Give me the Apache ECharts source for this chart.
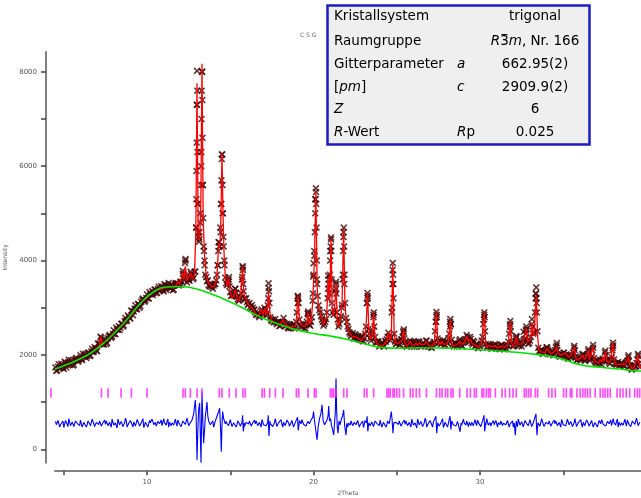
<!DOCTYPE html>
<html><head><meta charset="utf-8">
<script src="https://cdn.jsdelivr.net/npm/echarts@6/dist/echarts.min.js"></script>
<style>html,body{margin:0;padding:0;background:#fff}#c{width:641px;height:498px}</style>
</head><body><div id="c"></div>
<script>
// ---- data ----
const background = [[4.47,1700],[5.0,1770],[5.6,1856],[6.6,2034],[7.6,2316],[8.6,2669],[9.6,3093],[10.4,3339],[11.2,3440],[12.0,3450],[12.6,3430],[13.5,3340],[14.7,3170],[15.6,3020],[16.7,2820],[18.0,2640],[19.0,2530],[20.1,2450],[21.0,2400],[22.0,2330],[23.0,2240],[24.0,2160],[25.2,2140],[26.4,2150],[28.2,2140],[30.0,2110],[31.8,2068],[33.6,2000],[34.8,1928],[36.0,1790],[37.2,1737],[38.4,1700],[39.2,1665],[39.67,1660]];

const calc = [[4.47,1700],[5.0,1770],[5.6,1856],[6.6,2034],[7.0,2147],[7.14,2190],[7.22,2390],[7.3,2240],[7.6,2316],[8.6,2669],[9.6,3093],[10.4,3339],[11.2,3440],[11.6,3450],
[11.75,3470],[11.85,3560],[11.95,3490],[12.05,3520],[12.15,3740],[12.22,3600],[12.3,3880],[12.4,3560],[12.5,3560],[12.62,3740],[12.72,3600],[12.85,3700],[12.93,4600],[13.0,7760],[13.07,4600],[13.16,4420],[13.23,5200],[13.3,8170],[13.37,4900],[13.45,4100],[13.55,3680],[13.7,3520],[13.9,3440],[14.05,3460],[14.15,3560],[14.22,3800],[14.3,4350],[14.38,4300],[14.44,5000],[14.5,6270],[14.56,5000],[14.62,4200],[14.7,3650],[14.8,3460],[14.9,3620],[15.0,3330],[15.1,3200],[15.2,3250],[15.3,3380],[15.4,3220],[15.5,3130],[15.62,3250],[15.74,3880],[15.82,3300],[15.9,3200],[16.1,3060],[16.3,3000],[16.5,2880],[16.7,2820],[16.87,2970],[16.96,2850],[17.06,2990],[17.15,2845],[17.22,2900],[17.3,3340],[17.38,2900],[17.47,2740],[17.6,2700],[17.7,2740],[17.8,2660],[18.0,2640],[18.1,2650],[18.18,2760],[18.26,2650],[18.5,2600],[18.9,2600],[18.98,2800],[19.06,3260],[19.14,2800],[19.3,2620],[19.5,2600],[19.6,2700],[19.67,2900],[19.74,2650],[19.85,2700],[19.95,3100],[20.05,4000],[20.14,5450],[20.22,3400],[20.3,3020],[20.45,2845],[20.6,2640],[20.78,2800],[20.9,3650],[20.97,3100],[21.05,4460],[21.12,3000],[21.18,2820],[21.27,3000],[21.35,3520],[21.42,2800],[21.5,2600],[21.62,2800],[21.71,3050],[21.81,4680],[21.88,3200],[21.96,2740],[22.1,2500],[22.31,2390],[22.5,2380],[22.7,2360],[22.9,2300],[23.0,2300],[23.1,2420],[23.17,2700],[23.24,3290],[23.32,2600],[23.41,2320],[23.52,2400],[23.61,2890],[23.68,2400],[23.8,2250],[24.0,2180],[24.2,2200],[24.4,2300],[24.5,2460],[24.6,2300],[24.67,2400],[24.76,3920],[24.84,2500],[24.92,2250],[25.1,2250],[25.3,2300],[25.41,2530],[25.5,2250],[25.61,2180],[25.81,2290],[25.9,2220],[25.97,2260],[26.05,2200],[26.15,2250],[26.25,2200],[26.37,2260],[26.5,2210],[26.7,2230],[26.78,2290],[26.9,2200],[27.12,2180],[27.25,2250],[27.38,2890],[27.46,2300],[27.52,2220],[27.58,2270],[27.65,2220],[27.72,2290],[27.8,2230],[27.9,2260],[28.0,2230],[28.1,2300],[28.22,2725],[28.3,2260],[28.4,2190],[28.55,2210],[28.7,2240],[28.78,2290],[28.88,2220],[29.05,2260],[29.22,2390],[29.32,2280],[29.42,2330],[29.52,2240],[29.62,2260],[29.75,2200],[29.92,2150],[30.1,2280],[30.26,2890],[30.34,2250],[30.42,2150],[30.52,2200],[30.6,2190],[30.75,2170],[30.9,2200],[31.05,2150],[31.3,2190],[31.45,2150],[31.55,2180],[31.7,2250],[31.82,2700],[31.9,2250],[31.98,2175],[32.1,2250],[32.18,2390],[32.26,2230],[32.35,2200],[32.5,2230],[32.62,2320],[32.7,2300],[32.78,2560],[32.86,2260],[32.93,2240],[33.05,2380],[33.12,2680],[33.2,2400],[33.26,2500],[33.38,3270],[33.46,2400],[33.53,2110],[33.7,2060],[33.9,2050],[34.02,2140],[34.12,2100],[34.25,2020],[34.35,2060],[34.5,2080],[34.6,2174],[34.7,2030],[34.85,1990],[35.02,2030],[35.18,2020],[35.3,1950],[35.45,1990],[35.55,1950],[35.66,2160],[35.75,1950],[35.83,1890],[36.02,1930],[36.18,2000],[36.26,1900],[36.35,1880],[36.46,2000],[36.51,2100],[36.58,1900],[36.65,1930],[36.79,2170],[36.86,1900],[36.95,1850],[37.1,1830],[37.22,1900],[37.3,1850],[37.39,1950],[37.45,1870],[37.53,2070],[37.6,1880],[37.67,1900],[37.75,1830],[37.85,1900],[37.99,2246],[38.07,1850],[38.2,1800],[38.3,1840],[38.42,1800],[38.55,1810],[38.7,1790],[38.8,1850],[38.92,1960],[39.0,1800],[39.13,1700],[39.29,1760],[39.4,1800],[39.49,2000],[39.56,1780],[39.67,1720]];

// observed intensities on the scan grid (two interleaved 0.1 deg grids: 4.50.. and 4.55..)
const obsStart = 4.5, obsStep = 0.1;
const obsGrid = [1735,1673,1802,1725,1773,1700,1834,1794,1898,1787,
1862,1796,1914,1897,1880,1992,1890,1973,2026,1973,
2046,1989,2132,2070,2134,2077,2225,2385,2316,2220,
2308,2256,2391,2392,2392,2522,2438,2538,2608,2573,
2664,2624,2781,2734,2811,2769,2931,2918,3051,2968,
3071,3033,3164,3160,3155,3281,3192,3288,3353,3314,
3382,3319,3447,3370,3417,3345,3477,3435,3526,3403,
3464,3385,3510,3505,3470,3555,3545,3630,4000,3535,
3590,3655,3690,3630,3765,7300,4500,4800,8000,4300,
3700,3560,3480,3450,3440,3470,3500,3700,4390,4700,
6250,4300,3640,3480,3600,3330,3260,3280,3400,3230,
3150,3200,3600,3350,3180,3120,3080,3020,3060,2950,
2900,2860,2830,2850,2960,2880,2950,2880,3420,2800,
2720,2690,2760,2650,2700,2620,2690,2780,2600,2660,
2560,2640,2590,2650,2600,2900,3100,2640,2580,2650,
2560,2700,2850,2620,2800,3700,5300,3600,3050,2900,
2750,2620,2700,2900,3600,4200,3100,2850,3350,2900,
2600,2750,3000,4500,3100,2700,2550,2450,2420,2360,
2440,2340,2400,2320,2380,2290,2450,3100,2550,2350,
2420,2850,2380,2260,2280,2200,2260,2190,2300,2330,
2470,2310,2900,3500,2280,2240,2300,2220,2330,2500,
2270,2170,2260,2300,2200,2280,2230,2180,2290,2220,
2190,2260,2200,2300,2170,2230,2150,2260,2500,2850,
2260,2300,2240,2310,2220,2280,2350,2700,2320,2200,
2260,2180,2240,2330,2200,2260,2300,2420,2320,2380,
2250,2300,2180,2230,2140,2200,2300,2650,2500,2170,
2230,2190,2130,2200,2230,2140,2190,2120,2220,2150,
2190,2130,2280,2650,2260,2180,2290,2380,2210,2250,
2180,2300,2330,2550,2230,2300,2650,2450,2900,3100,
2150,2060,2110,2020,2080,2160,2090,2010,2060,1990,
2100,2200,2000,1960,2010,2040,1950,2010,1920,1980,
1960,2050,2100,1880,1930,1900,1960,1990,1870,1920,
2080,1880,1950,2150,1860,1820,1870,1890,1800,1920,
2050,1860,1900,1810,1950,2200,1830,1790,1850,1770,
1830,1780,1760,1850,1950,1780,1690,1740,1780,1830,
1980,1740];
const obsStart2 = 4.55;
const obsGrid2 = [1661,1750,1723,1811,1729,1857,1731,1841,1800,1884,
1774,1880,1938,1856,1923,1906,2024,1962,1934,2047,
1975,2073,2061,2164,2098,2241,2240,2365,2225,2324,
2227,2348,2424,2359,2445,2445,2580,2535,2525,2656,
2601,2715,2717,2835,2782,2940,2842,2979,2967,3079,
2997,3123,3194,3125,3205,3201,3332,3283,3268,3385,
3308,3395,3368,3456,3373,3501,3373,3475,3422,3493,
3370,3475,3525,3515,3495,3490,3720,3690,3645,3600,
3570,3725,3605,3760,4700,5200,4450,6000,5600,4000,
3650,3580,3460,3500,3400,3510,3580,3900,4300,5200,
5000,3900,3520,3500,3450,3250,3300,3250,3320,3180,
3160,3300,3850,3200,3200,3060,3100,2980,3000,2960,
2850,2880,2800,2930,2860,3000,2830,3050,3100,2740,
2750,2700,2690,2680,2610,2680,2700,2680,2640,2580,
2650,2570,2620,2560,2700,3250,2750,2600,2640,2560,
2650,2880,2640,2700,3150,4100,5450,3250,2950,2820,
2700,2660,2760,3200,3300,4450,2900,2950,3500,2750,
2650,2820,3600,3500,2780,2600,2480,2400,2460,2350,
2410,2380,2330,2400,2290,2350,2600,3250,2450,2300,
2500,2600,2270,2290,2180,2230,2250,2180,2280,2380,
2390,2360,3800,2450,2230,2290,2210,2320,2380,2350,
2200,2230,2190,2270,2250,2170,2280,2210,2270,2180,
2230,2190,2300,2220,2210,2160,2220,2280,2700,2350,
2250,2230,2290,2200,2270,2250,2450,2650,2230,2180,
2240,2200,2300,2250,2180,2290,2330,2380,2270,2340,
2220,2270,2210,2160,2190,2240,2380,2850,2230,2160,
2210,2160,2190,2150,2210,2170,2130,2200,2170,2120,
2200,2210,2450,2500,2190,2220,2350,2260,2190,2240,
2260,2330,2450,2300,2250,2380,2600,2480,3300,2500,
2080,2100,2040,2070,2100,2130,2050,2040,2080,2030,
2160,2100,1990,2020,1970,2050,2000,1940,2000,1940,
1990,2150,1960,1900,1950,1920,2010,1910,1900,1980,
1960,1920,2100,1930,1840,1880,1820,1880,1900,1880,
1990,1890,1840,1890,2100,1900,1810,1820,1790,1820,
1800,1770,1820,1880,1870,1760,1700,1770,1760,1900,
1820];

// extra observed points on the steep peak flanks
const obsPeaks = [[12.15,3780],[12.28,3950],[12.32,4030],[12.62,3760],
[12.95,4700],[12.96,5300],[12.97,5900],[12.98,6500],[12.99,7300],[13.0,8020],[13.02,7600],[13.03,6300],[13.05,5200],[13.07,4600],[13.12,4400],[13.15,4600],[13.2,5000],[13.24,5600],[13.26,6300],[13.27,7000],[13.28,7600],[13.3,8450],[13.31,8000],[13.32,7400],[13.33,6600],[13.35,5600],[13.37,4900],[13.42,4200],[13.46,3900],
[14.25,3900],[14.28,4200],[14.32,4390],[14.35,4300],[14.42,4600],[14.45,5200],[14.47,5700],[14.49,6150],[14.51,6250],[14.53,5600],[14.55,5000],[14.58,4500],[14.64,4000],
[14.88,3550],[14.92,3650],[15.3,3400],[15.72,3650],[15.74,3880],[15.76,3800],[15.78,3500],
[17.28,3200],[17.3,3517],[17.32,3350],[19.04,3100],[19.06,3240],[19.08,3200],[19.66,2880],[19.68,2920],
[19.96,3300],[19.98,3660],[20.0,3940],[20.04,4200],[20.08,4600],[20.1,5000],[20.12,5300],[20.14,5530],[20.16,5200],[20.18,4700],[20.2,4000],[20.22,3500],
[20.87,3400],[20.88,3680],[20.92,3500],[20.98,3700],[21.0,4000],[21.03,4300],[21.05,4490],[21.07,4200],[21.09,3600],
[21.33,3400],[21.35,3550],[21.37,3300],[21.71,3060],[21.76,3700],[21.78,4200],[21.8,4600],[21.82,4700],[21.84,4300],[21.86,3700],
[23.22,3100],[23.24,3310],[23.26,3200],[23.6,2800],[23.62,2900],[24.72,3000],[24.74,3500],[24.76,3950],[24.78,3700],[24.8,3200],
[25.4,2480],[25.42,2540],[27.36,2700],[27.38,2910],[27.4,2800],[28.2,2600],[28.22,2760],[28.24,2650],[30.24,2750],[30.26,2900],[30.28,2800],
[31.8,2600],[31.82,2720],[32.18,2400],[32.62,2490],[32.76,2520],[32.78,2600],[33.12,2760],[33.34,3200],[33.36,3300],[33.38,3430],[33.4,3200],[33.42,2900],
[34.02,2160],[34.62,2250],[35.66,2190],[36.19,2020],[36.51,2120],[36.79,2210],[37.53,2090],[37.97,2150],[37.99,2260],[38.92,1990],[39.49,2020]];

// difference curve (obs - calc, shifted) on two interleaved 0.1 deg grids, with finer detail near strong peaks
const diffStart = 4.5, diffStep = 0.1;
const diffGrid = [590,490,630,520,560,460,610,530,650,500,580,480,600,550,510,620,470,570,610,515,565,495,640,540,485,595,525,625,505,555,
530,600,480,570,640,510,560,450,620,540,590,500,660,470,550,610,520,580,490,630,545,505,600,460,575,615,500,560,640,520,
570,480,620,540,500,650,530,590,470,610,560,510,640,490,580,545,470,600,525,660,500,575,535,615,480,590,555,510,630,540,
575,505,620,530,555,470,600,540,640,510,585,475,610,545,500,630,480,560,600,525,570,490,650,530,495,590,535,615,515,560,
540,590,470,580,630,520,550,460,610,550,580,510,650,480,560,600,530,570,500,620,555,495,610,470,565,605,510,570,630,530,
570,480,620,540,500,650,530,590,470,610,560,510,640,490,580,545,470,600,525,660,500,575,535,615,480,590,555,510,630,540,
590,490,630,520,560,460,610,530,650,500,580,480,600,550,510,620,470,570,610,515,565,495,640,540,485,595,525,625,505,555,
530,600,480,570,640,510,560,450,620,540,590,500,660,470,550,610,520,580,490,630,545,505,600,460,575,615,500,560,640,520,
560,490,610,550,510,640,520,600,480,600,570,500,630,500,570,555,480,590,535,650,510,565,545,605,490,580,565,520,620,550,
575,505,620,530,555,470,600,540,640,510,585,475,610,545,500,630,480,560,600,525,570,490,650,530,495,590,535,615,515,560,
540,590,470,580,630,520,550,460,610,550,580,510,650,480,560,600,530,570,500,620,555,495,610,470,565,605,510,570,630,530,
570,480,620,540,500,650,530,590,470,610,560,510,640,490,580,545,470,600,525,660,500,575];
const diffStart2 = 4.55;
const diffGrid2 = [520,610,470,560,600,500,640,480,570,530,610,460,590,540,500,650,520,580,470,600,540,510,620,480,570,530,600,490,560,620,
600,500,570,470,620,540,500,640,520,590,480,560,610,500,540,630,470,580,530,600,490,560,650,510,550,470,610,540,590,500,
490,590,540,620,480,560,510,640,570,500,600,470,550,620,530,480,600,560,510,650,540,490,580,520,610,470,560,600,500,570,
520,610,470,560,600,500,640,480,570,530,610,460,590,540,500,650,520,580,470,600,540,510,620,480,570,530,600,490,560,620,
600,500,570,470,620,540,500,640,520,590,480,560,610,500,540,630,470,580,530,600,490,560,650,510,550,470,610,540,590,500,
490,590,540,620,480,560,510,640,570,500,600,470,550,620,530,480,600,560,510,650,540,490,580,520,610,470,560,600,500,570,
520,610,470,560,600,500,640,480,570,530,610,460,590,540,500,650,520,580,470,600,540,510,620,480,570,530,600,490,560,620,
600,500,570,470,620,540,500,640,520,590,480,560,610,500,540,630,470,580,530,600,490,560,650,510,550,470,610,540,590,500,
490,590,540,620,480,560,510,640,570,500,600,470,550,620,530,480,600,560,510,650,540,490,580,520,610,470,560,600,500,570,
520,610,470,560,600,500,640,480,570,530,610,460,590,540,500,650,520,580,470,600,540,510,620,480,570,530,600,490,560,620,
600,500,570,470,620,540,500,640,520,590,480,560,610,500,540,630,470,580,530,600,490,560,650,510,550,470,610,540,590,500,
490,590,540,620,480,560,510,640,570,500,600,470,550,620,530,480,600,560,510,650,540];
const diffDetail = [
[[12.6,560],[12.7,620],[12.8,750],[12.85,900],[12.9,1045],[12.95,700],[13.0,-225],[13.05,400],[13.1,850],[13.16,980],[13.2,300],[13.24,-285],[13.27,500],[13.3,1220],[13.35,600],[13.4,130],[13.45,400],[13.5,700],[13.55,850],[13.6,1000],[13.65,700],[13.7,600],[13.8,520]],
[[14.2,620],[14.3,800],[14.36,870],[14.42,400],[14.46,-50],[14.5,500],[14.54,800],[14.6,650],[14.7,540]],
[[15.7,560],[15.74,720],[15.78,380],[15.84,560]],
[[17.24,560],[17.28,720],[17.32,280],[17.38,600]],
[[19.0,560],[19.04,680],[19.08,400],[19.14,560]],
[[19.9,600],[19.96,680],[20.0,800],[20.06,600],[20.12,450],[20.21,200],[20.28,480],[20.36,650],[20.44,750],[20.51,940],[20.58,600],[20.66,520],[20.74,560],[20.81,620],[20.87,700],[20.91,917],[20.96,600],[21.02,650],[21.08,500],[21.14,420],[21.21,303],[21.27,600],[21.31,800],[21.35,1500],[21.39,800],[21.43,450],[21.47,340],[21.53,600],[21.6,520],[21.67,640],[21.74,700],[21.81,833],[21.87,500],[21.95,303],[22.0,550]],
[[23.18,560],[23.22,700],[23.26,380],[23.32,560]],
[[24.6,560],[24.67,800],[24.72,620],[24.77,340],[24.82,560],[24.9,600]],
[[27.3,560],[27.35,700],[27.4,340],[27.46,560]],
[[28.14,620],[28.2,700],[28.25,420],[28.3,600]],
[[28.74,560],[28.8,370],[28.86,560]],
[[30.18,600],[30.24,720],[30.28,380],[30.34,560]],
[[32.06,560],[32.12,300],[32.18,600]],
[[33.3,600],[33.36,750],[33.42,300],[33.48,560]]
];

// reflection positions (2Theta)
const hklPos = [4.23,7.26,7.66,8.44,9.06,10.0,12.16,12.30,12.60,13.0,13.30,14.34,14.50,14.94,15.34,15.76,15.90,16.91,17.05,17.37,17.71,18.17,18.97,19.11,19.67,20.05,20.15,21.01,21.11,21.21,21.35,21.81,22.01,23.05,23.21,23.61,24.41,24.51,24.61,24.77,24.86,25.0,25.16,25.41,25.81,25.97,26.17,26.37,26.78,27.38,27.58,27.72,27.92,28.06,28.26,28.38,28.78,29.22,29.42,29.66,29.78,30.12,30.22,30.38,30.52,30.62,30.92,31.32,31.52,31.78,31.98,32.18,32.66,32.78,32.92,33.06,33.32,33.46,34.12,34.32,34.52,35.02,35.18,35.42,35.52,35.82,36.02,36.18,36.32,36.46,36.62,36.92,37.22,37.39,37.52,37.67,37.82,38.23,38.42,38.59,38.78,38.99,39.29,39.45,39.59];
const hklLevel = 1193;

const xTicks = [5,10,15,20,25,30,35];
const xLabels = [10,20,30];
const yTicks = [0,1000,2000,3000,4000,5000,6000,7000,8000];
const yLabels = [0,2000,4000,6000,8000];

// ---- assemble series ----
const gridPts = (start, step, arr) => arr.map((v,i)=>[+(start+i*step).toFixed(2), v]);
const obsData = gridPts(obsStart,obsStep,obsGrid).concat(gridPts(obsStart2,obsStep,obsGrid2), obsPeaks);
const ranges = diffDetail.map(s=>[s[0][0], s[s.length-1][0]]);
let diffData = gridPts(diffStart,diffStep,diffGrid).concat(gridPts(diffStart2,diffStep,diffGrid2))
  .filter(p=>!ranges.some(r=>p[0]>=r[0]-1e-6 && p[0]<=r[1]+1e-6));
diffDetail.forEach(s=>s.forEach(p=>diffData.push(p)));
diffData.sort((a,b)=>a[0]-b[0]);
const hklData = hklPos.map(p=>[p,hklLevel]);

const F = 'DejaVu Sans';
const T = 13.5;
const rich = {i:{fontStyle:'italic',fontSize:T,fontFamily:F,fill:'#000'}};
function txt(x,y,s,align){
  return {type:'text', x:x, y:y, z:100, style:{text:s, rich:rich, fontSize:T, fontFamily:F, fill:'#000', align:align||'left', verticalAlign:'middle', textAlign:align||'left', textVerticalAlign:'middle'}};
}
const rowsY = [16.7,41,64.3,87.3,109,132.3];
const col1 = ['Kristallsystem','Raumgruppe','Gitterparameter','[{i|pm}]','{i|Z}','{i|R}-Wert'];
const col2 = ['','','{i|a}','{i|c}','','{i|R}p'];
const col3 = ['trigonal','{i|R}3{i|m}, Nr. 166','662.95(2)','2909.9(2)','6','0.025'];
const graphics = [
  {type:'text', x:300, y:35, style:{text:'C S G', fontSize:6, fontFamily:F, fill:'#666', verticalAlign:'middle', textVerticalAlign:'middle'}},
  {type:'rect', z:99, shape:{x:327.5,y:5.5,width:262,height:139}, style:{fill:'#efefef', stroke:'#1c1cc4', lineWidth:2.5}}
];
rowsY.forEach((y,k)=>{
  graphics.push(txt(334,y,col1[k]));
  if (col2[k]) graphics.push(txt(457,y,col2[k]));
  graphics.push(txt(535,y,col3[k],'center'));
});
// overbar on the 3 of R-3m
(function(){
  const cx = document.createElement('canvas').getContext('2d');
  const w = (t,it)=>{cx.font=(it?'italic ':'')+T+'px "'+F+'"'; return cx.measureText(t).width;};
  const W = w('R',1)+w('3',0)+w('m',1)+w(', Nr. 166',0);
  const x0 = 535 - W/2 + w('R',1);
  graphics.push({type:'line', z:101, shape:{x1:x0+1.2, y1:34.6, x2:x0+w('3',0)-1.2, y2:34.6}, style:{stroke:'#000', lineWidth:1}});
})();

const xSym = 'path://M0,1.6L1.6,0L5,3.4L8.4,0L10,1.6L6.6,5L10,8.4L8.4,10L5,6.6L1.6,10L0,8.4L3.4,5Z';

const chart = echarts.init(document.getElementById('c'));
chart.setOption({
  animation:false,
  grid:{left:55,right:0,top:52,bottom:35.3,containLabel:false,outerBoundsMode:'none'},
  xAxis:{type:'value',min:4.47,max:39.67,offset:8.5,
    name:'2Theta',nameLocation:'middle',nameGap:19,nameTextStyle:{fontSize:6,color:'#555',fontFamily:F},
    axisLine:{show:true,onZero:false,lineStyle:{color:'#808080',width:2}},
    axisTick:{show:true,length:4,customValues:xTicks,lineStyle:{color:'#404040',width:1.5}},
    axisLabel:{customValues:xLabels,fontSize:7,color:'#555',fontFamily:F,margin:7,formatter:v=>String(v)},
    splitLine:{show:false}},
  yAxis:{type:'value',min:-285,max:8420,offset:9,
    name:'Intensity',nameLocation:'middle',nameGap:34,nameRotate:90,nameTextStyle:{fontSize:6,color:'#555',fontFamily:F},
    axisLine:{show:true,onZero:false,lineStyle:{color:'#808080',width:2}},
    axisTick:{show:true,length:5,customValues:yTicks,lineStyle:{color:'#404040',width:1.5}},
    axisLabel:{customValues:yLabels,fontSize:7,color:'#555',fontFamily:F,margin:9,formatter:v=>String(v)},
    splitLine:{show:false}},
  graphic:graphics,
  series:[
    {type:'scatter',name:'obs',data:obsData,symbol:xSym,symbolSize:7,itemStyle:{color:'#3e0303'},z:1,silent:true},
    {type:'line',name:'calc',data:calc,showSymbol:false,lineStyle:{color:'#ff0000',width:1.3},z:2,silent:true},
    {type:'line',name:'background',data:background,smooth:true,showSymbol:false,lineStyle:{color:'#00e000',width:1.6},z:3,silent:true},
    {type:'scatter',name:'hkl',data:hklData,symbol:'rect',symbolSize:[1.7,9.5],itemStyle:{color:'#ff22ff'},clip:false,z:2,silent:true},
    {type:'line',name:'diff',data:diffData,showSymbol:false,lineStyle:{color:'#0000ff',width:1.1},z:2,silent:true}
  ]
});
</script></body></html>
